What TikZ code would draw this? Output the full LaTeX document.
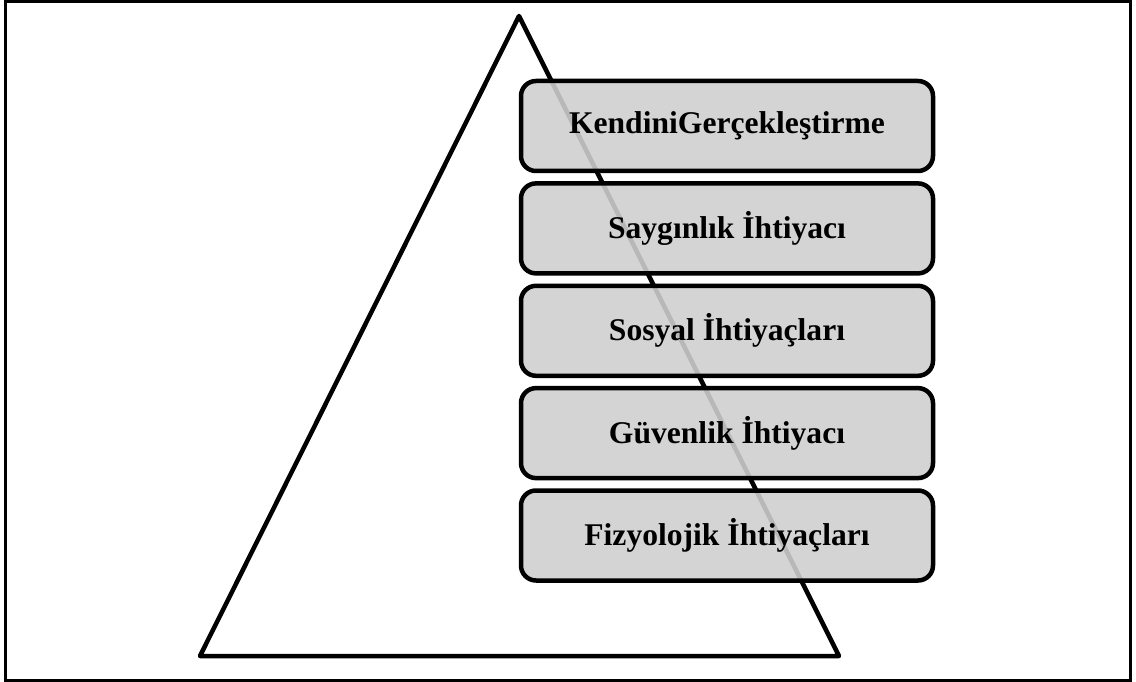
\documentclass[tikz,border=0pt]{standalone}
\usepackage{fontspec}
\setmainfont{Liberation Serif}
\begin{document}
\begin{tikzpicture}[x=1pt,y=-1pt,
  level/.style={draw=black, line width=4.5pt, rounded corners=15pt,
    fill=black!19, fill opacity=0.89, text opacity=1,
    minimum width=412pt, minimum height=90pt, inner sep=0pt,
    font=\bfseries\fontsize{31.6}{36}\selectfont}]
\useasboundingbox (0,0) rectangle (1136,682);
% outer frame
\draw[line width=3pt] (5.5,1.5) rectangle (1130.5,680);
% pyramid outline
\draw[line width=4.5pt, line join=round] (519,16) -- (839,656) -- (200,656) -- cycle;
% need levels
\node[level] (n1) at (727,126)   {KendiniGerçekleştirme};
\node[level] (n2) at (727,228.4) {Saygınlık İhtiyacı};
\node[level] (n3) at (727,330.8) {Sosyal İhtiyaçları};
\node[level] (n4) at (727,433.1) {Güvenlik İhtiyacı};
\node[level] (n5) at (727,535.5) {Fizyolojik İhtiyaçları};
\end{tikzpicture}
\end{document}
